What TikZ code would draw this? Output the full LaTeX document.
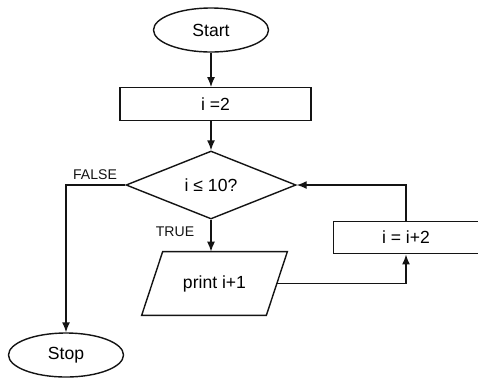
\documentclass[tikz,border=0pt]{standalone}
\usepackage{fontspec}
\setmainfont{Liberation Sans}
\usetikzlibrary{arrows.meta,positioning,shapes.geometric}
\definecolor{flowink}{RGB}{20,20,20}
\tikzset{
  flowterm/.style={draw=flowink, line width=0.8pt, ellipse, inner sep=0pt,
    minimum width=2.3cm, minimum height=0.88cm, font=\fontsize{10}{12}\selectfont},
  flowbox/.style={draw=flowink, line width=0.8pt, rectangle, inner sep=0pt,
    minimum height=0.65cm, font=\fontsize{10}{12}\selectfont},
  flowtest/.style={draw=flowink, line width=0.8pt, diamond, inner sep=0pt,
    minimum width=3.4cm, minimum height=1.36cm, font=\fontsize{10}{12}\selectfont},
  flowio/.style={rectangle, inner sep=0pt,
    minimum width=2.48cm, minimum height=1.26cm, font=\fontsize{10}{12}\selectfont},
  flowline/.style={draw=flowink, line width=0.8pt},
  flowlabel/.style={font=\fontsize{8}{10}\selectfont, text=flowink},
  flowarrow/.style={-{Latex[length=2mm,width=1.6mm]}, line width=0.8pt, flowink},
}
\begin{document}
\begin{tikzpicture}
  \useasboundingbox (0,0) rectangle (9.56,-7.58);
  % nodes
  \node[flowterm] (start) at (4.22,-0.60) {Start};
  \node[flowbox, minimum width=3.82cm] (init) at (4.31,-2.08) {i =2};
  \node[flowtest] (cond) at (4.22,-3.70) {i ≤ 10?};
  \node[flowio] (print) at (4.29,-5.67) {print i+1};
  \node[flowbox, minimum width=2.9cm] (inc) at (8.12,-4.75) {i = i+2};
  \node[flowterm] (stop) at (1.32,-7.10) {Stop};
  % slanted output box
  \draw[flowline] ([xshift=0.21cm]print.north west) -- ([xshift=0.21cm]print.north east)
    -- ([xshift=-0.21cm]print.south east) -- ([xshift=-0.21cm]print.south west) -- cycle;
  % branch labels
  \node[flowlabel] (falselbl) at (1.90,-3.50) {FALSE};
  \node[flowlabel] (truelbl) at (3.50,-4.64) {TRUE};
  % connectors
  \draw[flowarrow] (start.south) -- (start.south |- init.north);
  \draw[flowarrow] (cond.north |- init.south) -- (cond.north);
  \draw[flowarrow] (cond.south) -- (cond.south |- print.north);
  \draw[flowarrow] (cond.west) -| (stop.north);
  \draw[flowarrow] (print.east) -| (inc.south);
  \draw[flowarrow] (inc.north) |- (cond.east);
\end{tikzpicture}
\end{document}
